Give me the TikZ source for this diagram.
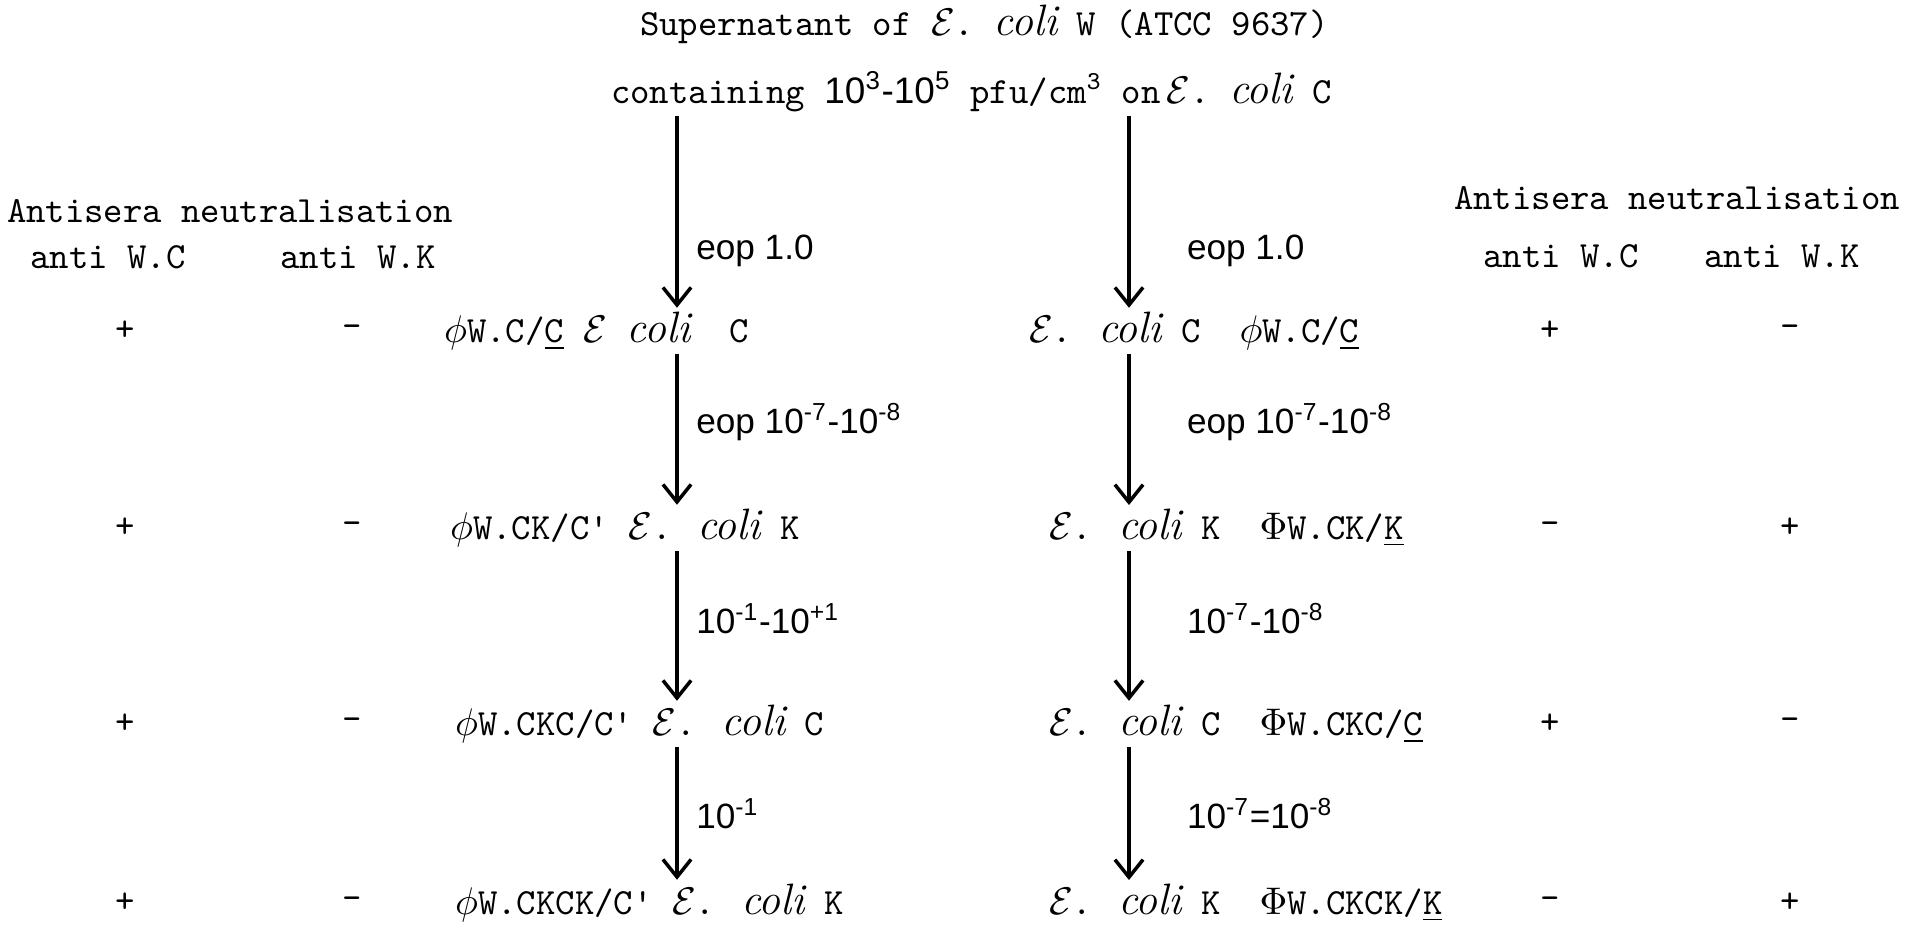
\documentclass[tikz,border=0pt]{standalone}
\usepackage{fontspec}
\newfontfamily\labfont{Liberation Sans}
\usepackage{tikz}
\usetikzlibrary{arrows.meta, positioning}
\newcommand{\Ec}{$\mathcal{E}$}
\newcommand{\coli}{{\rmfamily\itshape\fontsize{12.5}{14}\selectfont coli}}
\newcommand{\sups}[1]{\textsuperscript{#1}}

\begin{document}
\begin{tikzpicture}[x=0.01cm, y=-0.01cm,
  every node/.style={font=\ttfamily\fontsize{10.5}{12.6}\selectfont, inner sep=1pt},
  strain/.style={anchor=west},
  rate/.style={font=\labfont\fontsize{10}{12}\selectfont, anchor=west},
  flow/.style={-{Straight Barb[length=5pt,width=8pt]}, line width=1pt}
]
  \useasboundingbox (0,0) rectangle (1908,935);

  \node[anchor=west] (sup) at (636,24) {Supernatant of \Ec.\ \coli{} W (ATCC 9637)};
  \node[anchor=west] (cont) at (607,92) {containing {\labfont\fontsize{10.5}{13}\selectfont 10\sups{3}-10\sups{5}} pfu/cm\sups{3} on\,\Ec.\ \coli{} C};

  \coordinate (lx) at (677,0);
  \coordinate (rx) at (1129,0);

  % antisera, left
  \node (lhead) at (230,211) {Antisera neutralisation};
  \node (lwc) at (108,257) {anti W.C};
  \node (lwk) at (358,257) {anti W.K};
  % antisera, right
  \node (rhead) at (1677,198) {Antisera neutralisation};
  \node (rwc) at (1561,256) {anti W.C};
  \node (rwk) at (1782,256) {anti W.K};

  % left column
  \node[strain] (l1) at (440,331) {$\phi$W.C/\underline{C} \Ec{} \coli\ \ C};
  \node[strain] (l2) at (446,528) {$\phi$W.CK/C' \Ec. \coli{} K};
  \node[strain] (l3) at (451,724) {$\phi$W.CKC/C' \Ec. \coli{} C};
  \node[strain] (l4) at (451,903) {$\phi$W.CKCK/C' \Ec. \coli{} K};

  \node (lc1) at (125,331) {+};  \node (lk1) at (352,331) {-};
  \node (lc2) at (125,528) {+};  \node (lk2) at (352,528) {-};
  \node (lc3) at (125,724) {+};  \node (lk3) at (352,724) {-};
  \node (lc4) at (125,903) {+};  \node (lk4) at (352,903) {-};

  % right column
  \node[strain] (r1) at (1025,331) {\Ec. \coli{} C\ \ $\phi$W.C/\underline{C}};
  \node[strain] (r2) at (1045,528) {\Ec. \coli{} K\ \ $\Phi$W.CK/\underline{K}};
  \node[strain] (r3) at (1045,724) {\Ec. \coli{} C\ \ $\Phi$W.CKC/\underline{C}};
  \node[strain] (r4) at (1045,903) {\Ec. \coli{} K\ \ $\Phi$W.CKCK/\underline{K}};

  \node (rc1) at (1550,331) {+};  \node (rk1) at (1790,331) {-};
  \node (rc2) at (1550,528) {-};  \node (rk2) at (1790,528) {+};
  \node (rc3) at (1550,724) {+};  \node (rk3) at (1790,724) {-};
  \node (rc4) at (1550,903) {-};  \node (rk4) at (1790,903) {+};

  % arrows, left
  \draw[flow] (cont.south -| lx) -- node[rate, pos=0.7, right=4pt] {eop 1.0} (l1.north -| lx);
  \draw[flow] (l1.south -| lx) -- node[rate, pos=0.45, right=4pt] {eop 10\sups{-7}-10\sups{-8}} (l2.north -| lx);
  \draw[flow] (l2.south -| lx) -- node[rate, pos=0.45, right=4pt] {10\sups{-1}-10\sups{+1}} (l3.north -| lx);
  \draw[flow] (l3.south -| lx) -- node[rate, pos=0.5, right=4pt] {10\sups{-1}} (l4.north -| lx);

  % arrows, right
  \draw[flow] (cont.south -| rx) -- node[rate, pos=0.7, right=15pt] {eop 1.0} (r1.north -| rx);
  \draw[flow] (r1.south -| rx) -- node[rate, pos=0.45, right=15pt] {eop 10\sups{-7}-10\sups{-8}} (r2.north -| rx);
  \draw[flow] (r2.south -| rx) -- node[rate, pos=0.45, right=15pt] {10\sups{-7}-10\sups{-8}} (r3.north -| rx);
  \draw[flow] (r3.south -| rx) -- node[rate, pos=0.5, right=15pt] {10\sups{-7}=10\sups{-8}} (r4.north -| rx);
\end{tikzpicture}
\end{document}
